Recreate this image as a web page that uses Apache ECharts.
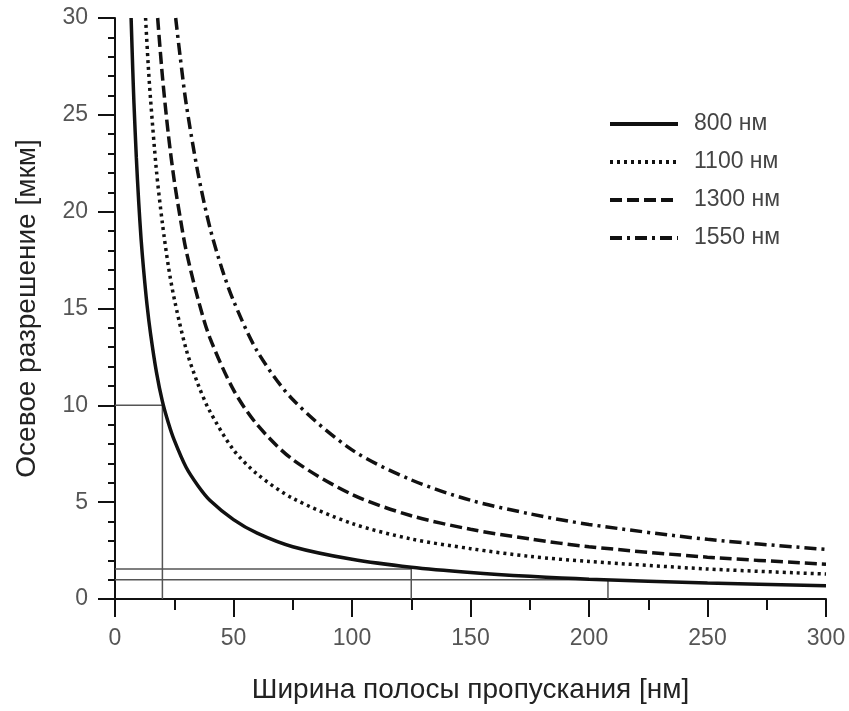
<!DOCTYPE html>
<html>
<head>
<meta charset="utf-8">
<script src="https://cdn.jsdelivr.net/npm/echarts@6/dist/echarts.min.js"></script>
<style>
  html, body { margin: 0; padding: 0; background: #fff; }
  #chart { width: 849px; height: 711px; }
</style>
</head>
<body>
<div id="chart"></div>
<script>
// значения
var seriesNames = ['800 нм', '1100 нм', '1300 нм', '1550 нм'];

var x800 = [6.8, 7.5, 8, 9, 10, 11, 12, 13.5, 15, 17.5, 20, 22.5, 25, 30, 35, 40, 50, 60, 75, 100, 125, 150, 175, 200, 250, 300];
var y800 = [30, 27.3, 25.6, 22.8, 20.5, 18.6, 17.1, 15.2, 13.7, 11.7, 10.2, 9.1, 8.2, 6.8, 5.85, 5.1, 4.1, 3.4, 2.7, 2.05, 1.64, 1.37, 1.17, 1.02, 0.82, 0.68];

var x1100 = [12.9, 14, 15, 17.5, 20, 22.5, 25, 30, 35, 40, 50, 60, 75, 100, 125, 150, 175, 200, 250, 300];
var y1100 = [30, 27.6, 25.8, 22.1, 19.4, 17.2, 15.5, 12.9, 11.1, 9.7, 7.7, 6.45, 5.2, 3.9, 3.1, 2.6, 2.2, 1.94, 1.55, 1.29];

var x1300 = [18, 20, 22.5, 25, 27.5, 30, 35, 40, 50, 60, 75, 100, 125, 150, 175, 200, 250, 300];
var y1300 = [30, 27, 24, 21.6, 19.7, 18, 15.5, 13.5, 10.8, 9.0, 7.2, 5.4, 4.3, 3.6, 3.1, 2.7, 2.16, 1.8];

var x1550 = [25.6, 27.5, 30, 35, 40, 45, 50, 60, 75, 100, 125, 150, 175, 200, 250, 300];
var y1550 = [30, 28, 25.6, 22, 19.2, 17.1, 15.4, 12.8, 10.3, 7.7, 6.15, 5.1, 4.4, 3.85, 3.08, 2.56];

// вспомогательные линии (отсчёты)
var guideA = [[0, 10], [20, 10], [20, 0]];
var guideB = [[0, 1.55], [125, 1.55], [125, 0]];
var guideC = [[0, 1.0], [208, 1.0], [208, 0]];

function pairs(xs, ys) {
    var out = [];
    for (var i = 0; i < xs.length; i++) out.push([xs[i], ys[i]]);
    return out;
}

var chart = echarts.init(document.getElementById('chart'));

var FONT = 'Liberation Sans, Arial, sans-serif';

var guideStyle = { color: '#555', width: 1.5 };

function curve(name, xs, ys, dash) {
    return {
        name: name,
        type: 'line',
        data: pairs(xs, ys),
        showSymbol: false,
        symbol: 'none',
        smooth: 0.3,
        z: 5,
        lineStyle: { color: '#111', width: 3.5, type: dash, cap: 'butt' },
        itemStyle: { color: '#111' }
    };
}

function guide(data) {
    return {
        type: 'line',
        data: data,
        symbol: 'none',
        silent: true,
        z: 3,
        lineStyle: guideStyle
    };
}

var option = {
    animation: false,
    backgroundColor: '#fff',
    grid: { left: 115, right: 23, top: 18, bottom: 112 },
    legend: {
        data: seriesNames,
        orient: 'vertical',
        left: 603,
        top: 107,
        itemWidth: 68,
        itemHeight: 14,
        itemGap: 14,
        itemStyle: { opacity: 0 },
        lineStyle: { width: 4 },
        textStyle: { fontFamily: FONT, fontSize: 23, lineHeight: 24, color: '#444', padding: [0, 0, 0, 11] }
    },
    xAxis: {
        type: 'value',
        min: 0,
        max: 300,
        interval: 50,
        name: 'Ширина полосы пропускания [нм]',
        nameLocation: 'middle',
        nameGap: 77,
        nameTextStyle: { fontFamily: FONT, fontSize: 28, color: '#222' },
        axisLine: { onZero: false, lineStyle: { color: '#111', width: 2 } },
        axisTick: { show: true, inside: false, length: 18, lineStyle: { color: '#111', width: 2 } },
        minorTick: { show: true, splitNumber: 2, length: 11, lineStyle: { color: '#111', width: 2 } },
        axisLabel: { margin: 28, fontFamily: FONT, fontSize: 23, color: '#555' },
        splitLine: { show: false }
    },
    yAxis: {
        type: 'value',
        min: 0,
        max: 30,
        interval: 5,
        name: 'Осевое разрешение [мкм]',
        nameLocation: 'middle',
        nameGap: 74,
        nameTextStyle: { fontFamily: FONT, fontSize: 28, color: '#222' },
        axisLine: { show: true, onZero: false, lineStyle: { color: '#111', width: 2 } },
        axisTick: { show: true, inside: false, length: 17, lineStyle: { color: '#111', width: 2 } },
        minorTick: { show: true, splitNumber: 5, length: 7, lineStyle: { color: '#111', width: 2 } },
        axisLabel: { margin: 27, fontFamily: FONT, fontSize: 23, color: '#555' },
        splitLine: { show: false }
    },
    series: [
        guide(guideA),
        guide(guideB),
        guide(guideC),
        curve(seriesNames[0], x800, y800, 'solid'),
        curve(seriesNames[1], x1100, y1100, [3, 4]),
        curve(seriesNames[2], x1300, y1300, [12, 5]),
        curve(seriesNames[3], x1550, y1550, [12, 5, 3, 5])
    ]
};

chart.setOption(option);
</script>
</body>
</html>
